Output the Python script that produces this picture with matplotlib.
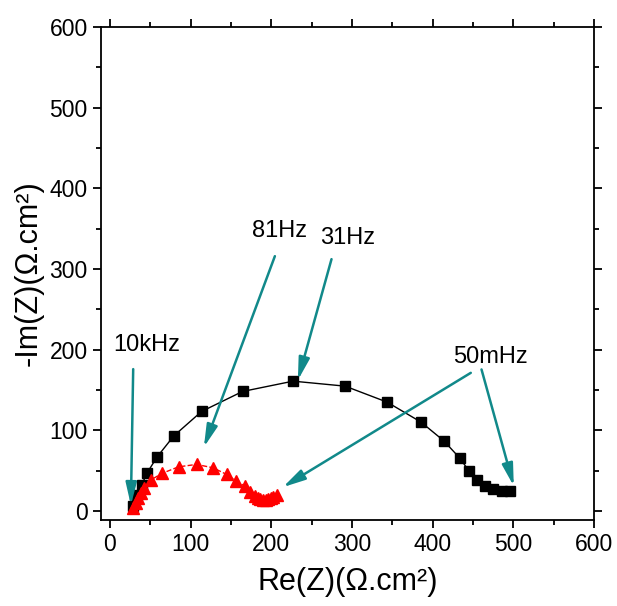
import numpy as np
import matplotlib
matplotlib.use("Agg")
from matplotlib import pyplot as plt
from matplotlib.ticker import MultipleLocator

plt.rcParams['font.family'] = ['Liberation Sans', 'DejaVu Sans']

# black squares (sample 1)
re_black = [28.9, 33.1, 39.3, 46.2, 58.6, 79.3, 113.6, 164.4, 227.1, 291.6, 343.6,
            385.7, 413.9, 433.7, 445.2, 455.1, 464.7, 475.0, 485.4, 495.7]
im_black = [6.6, 19.8, 32.2, 47.5, 67.3, 93.3, 123.5, 148.3, 161.1, 154.9, 135.1,
            110.3, 87.1, 65.7, 49.6, 38.4, 31.0, 26.9, 24.8, 24.4]

# red triangles (sample 2)
re_red = [28.9, 32.2, 35.1, 38.0, 42.1, 50.4, 64.4, 85.1, 107.4, 128.0, 144.6, 156.1,
          167.3, 173.5, 179.7, 183.0, 185.9, 189.5, 192.9, 196.0, 199.1, 202.5, 206.6]
im_red = [3.3, 9.5, 15.7, 21.9, 28.1, 38.4, 46.7, 54.9, 57.9, 53.7, 45.5, 37.5,
          31.0, 23.9, 18.6, 16.2, 14.5, 13.8, 13.6, 14.5, 16.1, 17.8, 19.8]

# frequency labels: text, text position, list of (arrow tail, arrow tip)
freq_labels = ["10kHz", "81Hz", "31Hz", "50mHz"]
label_pos = [(45.8, 205.7), (210.7, 347), (295, 338), (472, 190.8)]
label_arrows = [
    [((28.9, 176), (26, 7.4))],
    [((204.5, 316), (116.5, 79.3))],
    [((274.7, 312.3), (233, 162.3))],
    [((447.3, 171.4), (214.4, 29.7)), ((460.6, 175.6), (500.6, 31))],
]

teal = "#11898a"

fig = plt.figure(figsize=(6.17, 6.06), dpi=100)
ax = fig.add_axes([0.1637, 0.1419, 0.799, 0.8135])

ax.plot(re_black, im_black, color="black", lw=1, marker="s", ms=6.5, zorder=3)
ax.plot(re_red, im_red, color="red", lw=1, ls="--", marker="^", ms=8.5, zorder=3)

for txt, pos, arrs in zip(freq_labels, label_pos, label_arrows):
    ax.text(pos[0], pos[1], txt, fontsize=17, ha="center", va="center", zorder=5)
    for tail, tip in arrs:
        ax.annotate("", xy=tip, xytext=tail, zorder=4,
                    arrowprops=dict(arrowstyle="-|>,head_length=0.9,head_width=0.22",
                                    color=teal, lw=1.8, mutation_scale=15,
                                    shrinkA=0, shrinkB=0))

ax.set_xlim(-11, 600)
ax.set_ylim(-11, 600)
ax.xaxis.set_major_locator(MultipleLocator(100))
ax.xaxis.set_minor_locator(MultipleLocator(50))
ax.yaxis.set_major_locator(MultipleLocator(100))
ax.yaxis.set_minor_locator(MultipleLocator(50))
ax.tick_params(which="both", direction="out", top=True, right=True, width=1.3,
               labelsize=16.5)
ax.tick_params(which="major", length=6)
ax.tick_params(which="minor", length=3.5)
for s in ax.spines.values():
    s.set_linewidth(1.3)

ax.set_xlabel("Re(Z)(Ω.cm²)", fontsize=22, labelpad=8)
ax.set_ylabel("-Im(Z)(Ω.cm²)", fontsize=22, labelpad=4)

fig.savefig("out.png", dpi=100)
